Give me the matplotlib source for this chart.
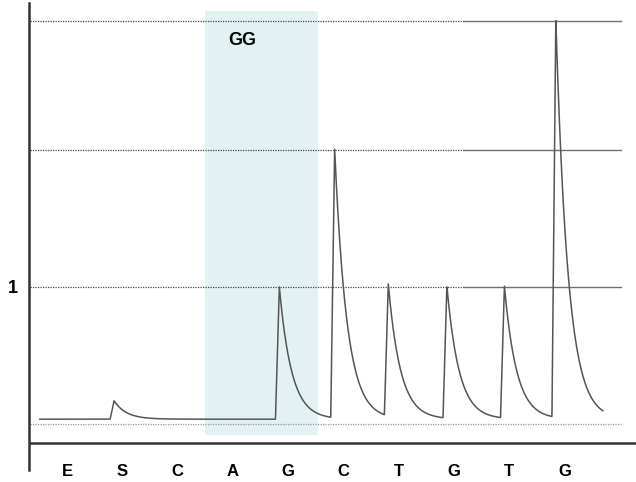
"""Pyrogram with a shaded GG region."""
import matplotlib
matplotlib.use('Agg')
import matplotlib.pyplot as plt
import numpy as np

plt.rcParams['font.family'] = ['Liberation Sans', 'DejaVu Sans']

# Dispensation order along the x axis
dispensations = ['E', 'S', 'C', 'A', 'G', 'C', 'T', 'G', 'T', 'G']

# Peaks: onset (in dispensation units) and height (light units)
peak_onsets = [0.78, 3.77, 4.77, 5.74, 6.80, 7.84, 8.77]
peak_heights = [0.17, 1.0, 2.0, 1.0, 1.0, 1.0, 2.94]

baseline = 0.035
trace_start, trace_end = -0.49, 9.69

grid_levels = [1, 2, 2.94]
shade_span = (2.495, 4.539)
shade_label = 'GG'


def pyrogram(x, onsets, heights):
    """Signal made of fast-rise, exponential-decay peaks."""
    y = np.full_like(x, baseline)
    rise, tau = 0.07, 0.22
    for t0, h in zip(onsets, heights):
        amp = h - baseline
        dt = x - t0
        up = (dt >= 0) & (dt < rise)
        y[up] += amp * dt[up] / rise
        down = dt >= rise
        y[down] += amp * np.exp(-(dt[down] - rise) / tau)
    return y


fig = plt.figure(figsize=(6.36, 4.82), dpi=100)
ax = fig.add_axes([29 / 636, 12 / 482, 607 / 636, 467 / 482])
ax.set_xlim(-0.687, 10.29)
ax.set_ylim(-0.336, 3.073)

# shaded region
ax.fill_between(shade_span, -0.08, 3.015, color='#e2f2f3', lw=0, zorder=0)
ax.text(np.mean(shade_span) - 0.34, 2.80, shade_label, ha='center', va='center',
        fontsize=13, fontweight='bold', color='black')

# grid lines: dotted on the left, solid on the right
g_left, g_mid, g_right = -0.67, 7.18, 10.02
for lvl in grid_levels:
    ax.plot([g_left, g_mid], [lvl, lvl], color='#444444', lw=0.9, ls=(0, (1, 1)), zorder=1)
    ax.plot([g_mid, g_right], [lvl, lvl], color='#707070', lw=1.0, zorder=1)
ax.plot([g_left, g_right], [0, 0], color='#999999', lw=0.9, ls=(0, (1, 1)), zorder=1)

# trace
x = np.linspace(trace_start, trace_end, 4000)
ax.plot(x, pyrogram(x, peak_onsets, peak_heights), color='#555555', lw=1.1, zorder=3)

# x axis line
ax.axhline(-0.139, color='#333333', lw=1.8, zorder=4)

# dispensation labels
for i, d in enumerate(dispensations):
    ax.text(i, -0.35, d, ha='center', va='center', fontsize=12,
            fontweight='bold', clip_on=False)

ax.set_xticks([])
ax.set_yticks([1])
ax.set_yticklabels(['1'], fontsize=13, fontweight='bold')
ax.tick_params(axis='y', length=0, pad=8)
for side in ['top', 'right', 'bottom']:
    ax.spines[side].set_visible(False)
ax.spines['left'].set_color('#333333')
ax.spines['left'].set_linewidth(1.8)

fig.savefig('out.png', dpi=100)
plt.close(fig)
